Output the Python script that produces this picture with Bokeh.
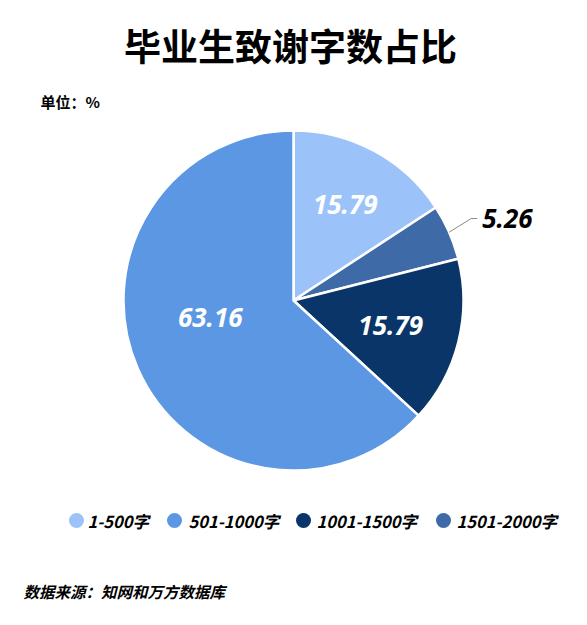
import math
from bokeh.plotting import figure
from bokeh.models import ColumnDataSource, Range1d
from bokeh.core.properties import value
from bokeh.embed import file_html
from bokeh.resources import INLINE

# ---- data ----
title_text = "毕业生致谢字数占比"
unit_text = "单位：%"
source_text = "数据来源：知网和万方数据库"
# slices in clockwise order starting from 12 o'clock
slice_names = ["1-500字", "1501-2000字", "1001-1500字", "501-1000字"]
slice_values = [15.79, 5.26, 15.79, 63.16]
slice_colors = ["#9cc3f9", "#3e6ba7", "#0a3568", "#5c97e4"]
# legend order
legend_names = ["1-500字", "501-1000字", "1001-1500字", "1501-2000字"]
legend_colors = ["#9cc3f9", "#5c97e4", "#0a3568", "#3e6ba7"]

# ---- layout ----
W, H = 571, 609
def Y(py):
    return H - py
def X(px):
    return px

cx, cy, R = X(293), Y(300), 170
label_r = [0.64, None, 0.59, 0.5]
label_shift_deg = [0, 0, 0, -12]

p = figure(width=W, height=H, output_backend="svg", toolbar_location=None,
           x_range=Range1d(0, W), y_range=Range1d(0, H), min_border=0)
p.axis.visible = False
p.grid.visible = False
p.outline_line_color = None
p.background_fill_color = "white"
p.border_fill_color = "white"

total = sum(slice_values)
starts, ends, mids = [], [], []
cum = 0.0
for v in slice_values:
    a0 = math.pi / 2 - 2 * math.pi * (cum + v) / total
    a1 = math.pi / 2 - 2 * math.pi * cum / total
    starts.append(a0)
    ends.append(a1)
    mids.append((a0 + a1) / 2)
    cum += v

src = ColumnDataSource(dict(start=starts, end=ends, color=slice_colors, name=slice_names))
p.wedge(x=cx, y=cy, radius=R, start_angle="start", end_angle="end",
        fill_color="color", line_color="white", line_width=2.5, source=src)

num_font = value("Noto Sans")
lx, ly, lt = [], [], []
for i, v in enumerate(slice_values):
    if label_r[i] is None:
        continue
    a = mids[i] + math.radians(label_shift_deg[i])
    lx.append(cx + label_r[i] * R * math.cos(a))
    ly.append(cy + label_r[i] * R * math.sin(a))
    lt.append(f"{v:.2f}")
p.text(x=lx, y=ly, text=lt, text_color="white", text_font=num_font,
       text_font_size="26px", text_font_style="bold italic",
       text_align="center", text_baseline="middle")

# outside label for the small slice with leader line
i_small = 1
a = mids[i_small]
ex, ey = cx + R * math.cos(a), cy + R * math.sin(a)
kx, ky = ex + 22, Y(218)
p.line(x=[ex, kx, kx + 6], y=[ey, ky, ky], line_color="#8a8a8a", line_width=1)
p.text(x=[kx + 11], y=[ky], text=[f"{slice_values[i_small]:.2f}"], text_color="black",
       text_font=num_font, text_font_size="26px", text_font_style="bold italic",
       text_align="left", text_baseline="middle")

cjk = value("Noto Sans CJK SC")
p.text(x=[X(290)], y=[Y(44)], text=[title_text], text_font=cjk, text_font_size="37px",
       text_font_style="bold", text_color="black", text_align="center", text_baseline="middle")
p.text(x=[X(40)], y=[Y(101)], text=[unit_text], text_font=cjk, text_font_size="15px",
       text_font_style="bold", text_color="black", text_align="left", text_baseline="middle")

# legend
leg_cx = [X(76), X(174), X(303), X(443)]
leg_tx = [X(87), X(188), X(316), X(456)]
leg_y = Y(520)
p.scatter(x=leg_cx, y=[leg_y] * 4, size=15, marker="circle", fill_color=legend_colors, line_color=None)
p.text(x=leg_tx, y=[leg_y] * 4, text=legend_names, text_font=cjk, text_font_size="16.5px",
       text_font_style="bold italic", text_color="black", text_align="left", text_baseline="middle")

p.text(x=[X(23)], y=[Y(590)], text=[source_text], text_font=cjk, text_font_size="15.5px",
       text_font_style="bold italic", text_color="black", text_align="left", text_baseline="middle")

open("out.html", "w").write(file_html(p, INLINE))
